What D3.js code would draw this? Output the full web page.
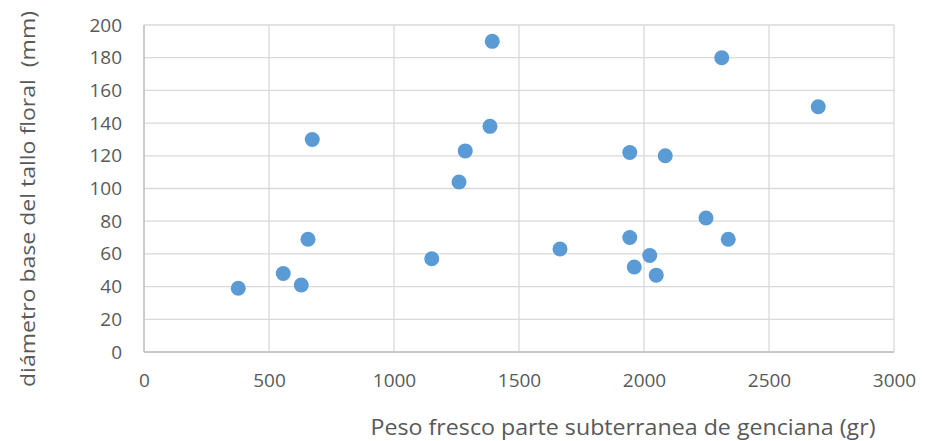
<!DOCTYPE html>
<html>
<head>
<meta charset="utf-8">
<script src="https://cdn.jsdelivr.net/npm/d3@7"></script>
<style>
  body { margin: 0; background: #fff; }
  text { font-family: "Open Sans", sans-serif; fill: #595959; }
</style>
</head>
<body>
<div id="chart-area"></div>
<script>
// peso fresco (gr) vs diametro (mm)
const pesoFresco = [377, 557, 629, 656, 673, 1151, 1260, 1285, 1384, 1393,
  1664, 1943, 1943, 1961, 2023, 2049, 2085, 2248, 2311, 2337, 2697]
const diametro = [39, 48, 41, 69, 130, 57, 104, 123, 138, 190,
  63, 122, 70, 52, 59, 47, 120, 82, 180, 69, 150]
const xTicks = [0, 500, 1000, 1500, 2000, 2500, 3000]
const yTicks = [0, 20, 40, 60, 80, 100, 120, 140, 160, 180, 200]

const MARGIN = { LEFT: 144, RIGHT: 34, TOP: 25, BOTTOM: 89 }
const WIDTH = 928 - MARGIN.LEFT - MARGIN.RIGHT
const HEIGHT = 441 - MARGIN.TOP - MARGIN.BOTTOM

const data = pesoFresco.map((p, i) => ({ x: p, y: diametro[i] }))

const svg = d3.select('#chart-area')
  .append('svg')
  .attr('width', 928)
  .attr('height', 441)

const g = svg.append('g')
  .attr('transform', `translate(${MARGIN.LEFT},${MARGIN.TOP})`)

const x = d3.scaleLinear().domain([0, 3000]).range([0, WIDTH])
const y = d3.scaleLinear().domain([0, 200]).range([HEIGHT, 0])

// grid
g.append('g').selectAll('line.h')
  .data(yTicks)
  .enter().append('line')
  .attr('x1', 0).attr('x2', WIDTH)
  .attr('y1', d => y(d)).attr('y2', d => y(d))
  .attr('stroke', '#d9d9d9').attr('stroke-width', 1.3)

g.append('g').selectAll('line.v')
  .data(xTicks)
  .enter().append('line')
  .attr('x1', d => x(d)).attr('x2', d => x(d))
  .attr('y1', 0).attr('y2', HEIGHT)
  .attr('stroke', '#d9d9d9').attr('stroke-width', 1.3)

// axes lines
g.append('line')
  .attr('x1', 0).attr('x2', WIDTH).attr('y1', HEIGHT).attr('y2', HEIGHT)
  .attr('stroke', '#bfbfbf').attr('stroke-width', 1.3)
g.append('line')
  .attr('x1', 0).attr('x2', 0).attr('y1', 0).attr('y2', HEIGHT)
  .attr('stroke', '#bfbfbf').attr('stroke-width', 1.3)

const xAxisCall = d3.axisBottom(x).tickValues(xTicks).tickFormat(d3.format('d'))
  .tickSize(0).tickPadding(22)
const xAxis = g.append('g')
  .attr('class', 'x axis')
  .attr('transform', `translate(0,${HEIGHT})`)
  .call(xAxisCall)
xAxis.select('.domain').remove()
xAxis.selectAll('text').attr('font-size', '19px').attr('fill', '#595959')
  .attr('font-family', '"Open Sans", sans-serif')

const yAxisCall = d3.axisLeft(y).tickValues(yTicks).tickFormat(d3.format('d'))
  .tickSize(0).tickPadding(22)
const yAxis = g.append('g')
  .attr('class', 'y axis')
  .call(yAxisCall)
yAxis.select('.domain').remove()
yAxis.selectAll('text').attr('font-size', '19px').attr('fill', '#595959')
  .attr('font-family', '"Open Sans", sans-serif')

g.selectAll('circle')
  .data(data)
  .enter().append('circle')
  .attr('cx', d => x(d.x))
  .attr('cy', d => y(d.y))
  .attr('r', 7.5)
  .attr('fill', '#5b9bd5')

svg.append('text')
  .attr('transform', 'rotate(-90)')
  .attr('x', -199)
  .attr('y', 35)
  .attr('text-anchor', 'middle')
  .attr('font-size', '20px')
  .attr('textLength', 376)
  .attr('lengthAdjust', 'spacingAndGlyphs')
  .attr('xml:space', 'preserve')
  .text('diámetro base del tallo floral  (mm)')

svg.append('text')
  .attr('x', 623)
  .attr('y', 435)
  .attr('text-anchor', 'middle')
  .attr('font-size', '21px')
  .attr('textLength', 505)
  .attr('lengthAdjust', 'spacingAndGlyphs')
  .text('Peso fresco parte subterranea de genciana (gr)')
</script>
</body>
</html>
